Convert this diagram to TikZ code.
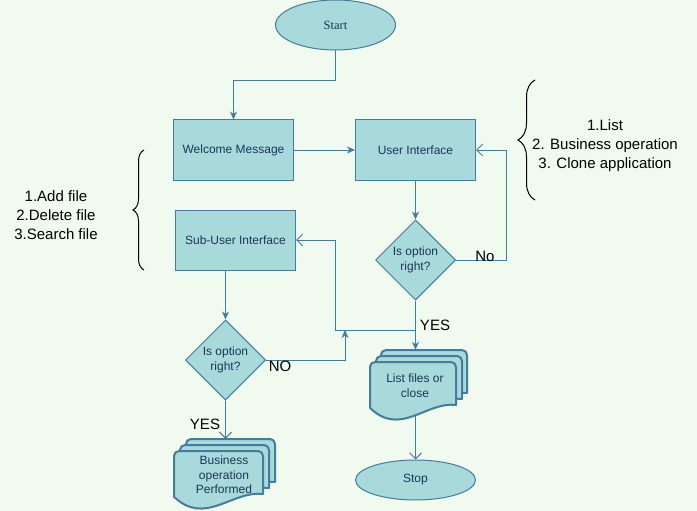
\documentclass[tikz,border=0pt]{standalone}
\usepackage{fontspec}
\setmainfont{Liberation Sans}
\newfontfamily\startfont{Liberation Serif}
\usetikzlibrary{arrows.meta,shapes.geometric,decorations.pathreplacing,positioning}

\definecolor{bgcol}{HTML}{F1FAEE}
\definecolor{fillcol}{HTML}{A8DADC}
\definecolor{linecol}{HTML}{457B9D}
\definecolor{textcol}{HTML}{1D3557}

\tikzset{
  box/.style={draw=linecol, fill=fillcol, line width=1pt, inner sep=0pt,
    minimum width=120pt, minimum height=60pt, text=textcol,
    font=\fontsize{12}{14}\selectfont},
  terminal/.style={box, ellipse, minimum height=40pt},
  decision/.style={box, diamond, aspect=1, minimum width=80pt, minimum height=80pt,
    align=center, font=\fontsize{12}{15}\selectfont},
  sheet/.style={draw=linecol, fill=fillcol, line width=2pt, line join=round},
  docframe/.style={inner sep=0pt},
  doctext/.style={inner sep=0pt, align=center, text=textcol,
    font=\fontsize{12}{14.5}\selectfont},
  flow/.style={draw=linecol, line width=1pt,
    -{Stealth[length=8pt,width=7pt,inset=2.5pt]}},
  openflow/.style={draw=linecol, line width=1pt,
    -{Straight Barb[length=6pt,width=12pt]}},
  lbl/.style={inner sep=0pt, font=\fontsize{15}{18}\selectfont},
  bracetext/.style={inner sep=0pt, align=center, font=\fontsize{15}{19}\selectfont},
  brc/.style={draw=black, line width=1pt, decorate}
}

% one page of a document stack: left, top, width, height
\newcommand{\docsheet}[4]{%
  \filldraw[sheet] (#1,{#2+0.79*#4}) [rounded corners=5pt] -- (#1,#2) -- ({#1+#3},#2)
    [sharp corners] -- ({#1+#3},{#2+0.74*#4})
    .. controls ({#1+0.65*#3},{#2+0.68*#4}) and ({#1+0.35*#3},{#2+1.3*#4}) .. (#1,{#2+0.79*#4})
    -- cycle;}

\begin{document}
\begin{tikzpicture}[x=1pt,y=-1pt]
\fill[bgcol] (0,0) rectangle (697,511);
\useasboundingbox (0,0) rectangle (697,511);

% main flow
\node[terminal, minimum height=50pt, font=\startfont\fontsize{12.5}{14}\selectfont] (start) at (335.5,25) {Start};
\node[box] (welcome) at (233.5,150) {Welcome Message};
\node[box] (ui) at (415.5,150) {User Interface};
\node[decision] (q1) at (415.5,260) {Is option\\right?};
\node[box] (sub) at (235.5,240) {Sub-User Interface};
\node[decision] (q2) at (225.5,360) {Is option\\right?};
\node[terminal] (stop) at (415.5,480) {Stop};

% document stacks
\docsheet{381}{350}{86}{58}
\docsheet{376}{356}{86}{58}
\docsheet{370}{362}{86}{58}
\node[docframe, minimum width=96pt, minimum height=64pt] (list) at (417,382) {};
\node[doctext] (listtxt) at (415,385.5) {List files or\\close};

\docsheet{186}{439}{89}{58}
\docsheet{180}{445}{89}{58}
\docsheet{174}{451}{89}{58}
\node[docframe, minimum width=100pt, minimum height=70pt] (biz) at (224,474) {};
\node[doctext] (biztxt) at (224,475) {Business\\operation\\Performed};

% connectors
\draw[flow] (start.south) -- ++(0,30) -| (welcome.north);
\draw[flow] (welcome) -- (ui);
\draw[flow] (ui) -- (q1);
\draw[openflow] (q1.east) -- ++(50,0) |- (ui.east);
\draw[flow] (q1.south) -- (q1.south |- list.north);
\coordinate (j1) at (335,330);
\draw[openflow] (q1.south) |- (j1) |- (sub.east);
\draw[flow] (q2.north |- sub.south) -- (q2.north);
\coordinate (j2) at (345,330);
\draw[flow] (q2.east) -| (j2);
\draw[openflow] (q2.south) -- (q2.south |- biz.north);
\draw[openflow] (stop.north |- list.south) -- (stop.north);

% labels
\node[lbl] (no1) at (485,256) {No};
\node[lbl] (yes1) at (435,325) {YES};
\node[lbl] (no2) at (280,366) {NO};
\node[lbl] (yes2) at (205,424) {YES};

% braces
\draw[brc, decoration={brace, amplitude=11pt}] (144,270) -- (144,150);
\node[bracetext] (subopts) at (56,215) {1.Add file\\2.Delete file\\3.Search file};
\draw[brc, decoration={brace, amplitude=17pt}] (535,200) -- (535,80);
\node[bracetext] (mainopts) at (605,146) {1.List\\2. Business operation\\3. Clone application};
\end{tikzpicture}
\end{document}
